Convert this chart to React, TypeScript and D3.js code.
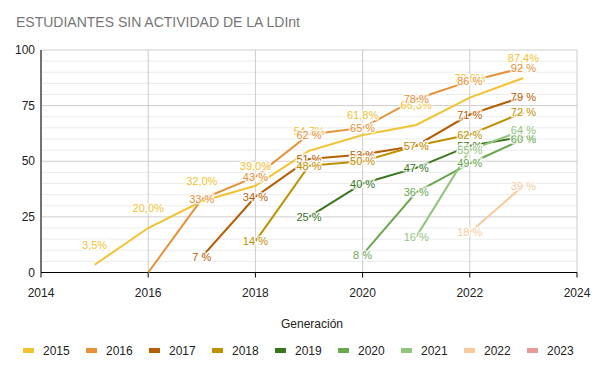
import React from "react";
import * as d3 from "d3";

const years = [2015, 2016, 2017, 2018, 2019, 2020, 2021, 2022, 2023];
const seriesNames = ["2015", "2016", "2017", "2018", "2019", "2020", "2021", "2022", "2023"];
const colors = ["#f1c232", "#e69138", "#b45f06", "#bf9000", "#38761d", "#6aa84f", "#93c47d", "#f9cb9c", "#ea9999"];

// values per generation (null = no data)
const s2015 = [3.5, 20.0, 32.0, 39.0, 54.7, 61.8, 66.3, 78.6, 87.4];
const s2016 = [null, 0, 33, 43, 62, 65, 78, 86, 92];
const s2017 = [null, null, 7, 34, 51, 53, 57, 71, 79];
const s2018 = [null, null, null, 14, 48, 50, 57, 62, 72];
const s2019 = [null, null, null, null, 25, 40, 47, 57, 61];
const s2020 = [null, null, null, null, null, 8, 36, 49, 60];
const s2021 = [null, null, null, null, null, null, 16, 55, 64];
const s2022 = [null, null, null, null, null, null, null, 18, 39];
const s2023: (number | null)[] = [null, null, null, null, null, null, null, null, null];
const allSeries = [s2015, s2016, s2017, s2018, s2019, s2020, s2021, s2022, s2023];

const xTicks = [2014, 2016, 2018, 2020, 2022, 2024];
const yTicks = [0, 25, 50, 75, 100];

export default function App() {
  const W = 595, H = 366;
  const x = d3.scaleLinear().domain([2014, 2024]).range([41, 577]);
  const y = d3.scaleLinear().domain([0, 100]).range([272.5, 50]);
  const minor = d3.range(0, 101, 5).filter((v) => v % 25 !== 0);
  const font = "'Liberation Sans', Arial, sans-serif";

  const line = d3
    .line<[number, number | null]>()
    .defined((d) => d[1] !== null)
    .x((d) => x(d[0]))
    .y((d) => y(d[1] as number));

  const fmt = (si: number, v: number) =>
    si === 0 ? v.toFixed(1).replace(".", ",") + "%" : Math.round(v) + " %";

  return (
    <svg width={W} height={H} style={{ position: "absolute", left: 0, top: 0 }} fontFamily={font}>
      <rect width={W} height={H} fill="#fff" />
      <text x={16} y={27} fontSize={14} fill="#757575">ESTUDIANTES SIN ACTIVIDAD DE LA LDInt</text>
      {minor.map((v) => (
        <line key={"m" + v} x1={x(2014)} x2={x(2024)} y1={y(v)} y2={y(v)} stroke="#ebebeb" strokeWidth={1} />
      ))}
      {yTicks.map((v) => (
        <line key={"g" + v} x1={x(2014)} x2={x(2024)} y1={y(v)} y2={y(v)} stroke="#cccccc" strokeWidth={1} />
      ))}
      {xTicks.map((v) => (
        <line key={"v" + v} x1={x(v)} x2={x(v)} y1={y(0)} y2={y(100)} stroke="#cccccc" strokeWidth={1} />
      ))}
      {yTicks.map((v) => (
        <text key={"yt" + v} x={35} y={y(v) + 4} fontSize={12} fill="#222" textAnchor="end">{v}</text>
      ))}
      {xTicks.map((v) => (
        <g key={"xt" + v}>
          <line x1={x(v)} x2={x(v)} y1={y(0)} y2={y(0) + 5} stroke="#000" />
          <text x={x(v)} y={y(0) + 24} fontSize={12} fill="#222" textAnchor="middle">{v}</text>
        </g>
      ))}
      <line x1={x(2014)} x2={x(2014)} y1={y(100)} y2={y(0)} stroke="#000" />
      <line x1={x(2014)} x2={x(2024)} y1={y(0)} y2={y(0)} stroke="#000" />
      {allSeries.map((s, si) => (
        <path
          key={"l" + si}
          d={line(years.map((yr, i) => [yr, s[i]] as [number, number | null])) || ""}
          fill="none"
          stroke={colors[si]}
          strokeWidth={2}
        />
      ))}
      {allSeries.map((s, si) =>
        s.map((v, i) => {
          if (v === null || (si === 1 && v === 0)) return null;
          const px = x(years[i]);
          const py = si === 0 ? y(v) - 20 : y(v);
          return (
            <text
              key={"lb" + si + "-" + i}
              x={px}
              y={py + 4}
              fontSize={11}
              fill={colors[si]}
              textAnchor="middle"
              stroke="#fff"
              strokeWidth={3}
              strokeOpacity={0.8}
              paintOrder="stroke"
            >
              {fmt(si, v)}
            </text>
          );
        })
      )}
      <text x={312} y={328} fontSize={12} fill="#222" textAnchor="middle">Generación</text>
      {seriesNames.map((n, i) => (
        <g key={"lg" + n} transform={`translate(${23 + i * 63},0)`}>
          <rect x={0} y={348} width={11} height={5} fill={colors[i]} />
          <text x={20} y={355} fontSize={12} fill="#222">{n}</text>
        </g>
      ))}
    </svg>
  );
}
